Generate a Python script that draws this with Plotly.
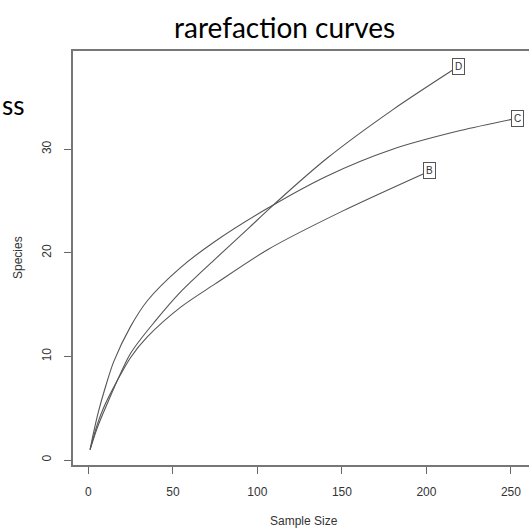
import plotly.graph_objects as go

site_names = ["B", "C", "D"]
sample_B = [1, 5, 10, 25, 35, 55, 75, 106, 150, 202]
species_B = [1, 3.3, 5.4, 9.9, 11.9, 14.8, 17.0, 20.3, 24.0, 27.9]
sample_C = [1, 3, 6, 10, 15, 25, 35, 54, 74, 106, 141, 180, 220, 254]
species_C = [1, 2.6, 4.7, 7.0, 9.5, 12.9, 15.4, 18.5, 21.0, 24.3, 27.4, 30.0, 31.8, 33.0]
sample_D = [1, 5, 10, 25, 40, 55, 75, 95, 106, 141, 180, 219]
species_D = [1, 3.0, 5.0, 10.3, 13.5, 16.3, 19.4, 22.4, 24.1, 29.1, 33.8, 38.0]
x_ticks = [0, 50, 100, 150, 200, 250]
y_ticks = [0, 10, 20, 30]

series = [(site_names[0], sample_B, species_B),
          (site_names[1], sample_C, species_C),
          (site_names[2], sample_D, species_D)]

fig = go.Figure()
for name, xs, ys in series:
    fig.add_trace(go.Scatter(x=xs, y=ys, mode="lines", name=name,
                             line=dict(color="#555555", width=1.1, shape="spline", smoothing=0.8),
                             hoverinfo="skip"))
    fig.add_annotation(x=xs[-1], y=ys[-1], text=name, showarrow=False,
                       font=dict(family="Liberation Sans", size=10, color="#333333"),
                       bgcolor="white", bordercolor="#555555", borderwidth=1, borderpad=2)

tickfont = dict(family="Liberation Sans", size=12, color="#333333")
fig.update_layout(
    width=529, height=528,
    margin=dict(l=73, r=0, t=51, b=63),
    paper_bgcolor="white", plot_bgcolor="white",
    showlegend=False,
    xaxis=dict(range=[-9.1, 260.7], tickvals=x_ticks, ticks="outside", ticklen=7,
               tickcolor="#666666", showline=True, linecolor="#777777", linewidth=1.5,
               mirror=True, showgrid=False, zeroline=False, tickfont=tickfont,
               ticklabelstandoff=8, automargin=False),
    yaxis=dict(range=[-0.48, 39.48], tickvals=y_ticks, ticks="outside", ticklen=7,
               tickcolor="#666666", showline=True, linecolor="#777777", linewidth=1.5,
               showgrid=False, zeroline=False, tickfont=tickfont, tickangle=-90,
               ticklabelstandoff=8, automargin=False),
)

fig.add_annotation(text="rarefaction curves", xref="paper", yref="paper",
                   x=(284 - 73) / 456, y=(465 - 27) / 414, showarrow=False,
                   xanchor="center", yanchor="middle",
                   font=dict(family="Lato", size=28, color="black"))
fig.add_annotation(text="ss", xref="paper", yref="paper",
                   x=-73 / 456, y=(465 - 105) / 414, showarrow=False,
                   xanchor="left", yanchor="middle",
                   font=dict(family="Lato", size=26, color="black"))
fig.add_annotation(text="Sample Size", xref="paper", yref="paper",
                   x=(304 - 73) / 456, y=(465 - 521) / 414, showarrow=False,
                   xanchor="center", yanchor="middle", font=tickfont)
fig.add_annotation(text="Species", xref="paper", yref="paper",
                   x=(18 - 73) / 456, y=(465 - 258) / 414, showarrow=False, textangle=-90,
                   xanchor="center", yanchor="middle", font=tickfont)

fig.write_html("out.html", config={"displayModeBar": False},
               post_script="document.body.style.margin='0';")
